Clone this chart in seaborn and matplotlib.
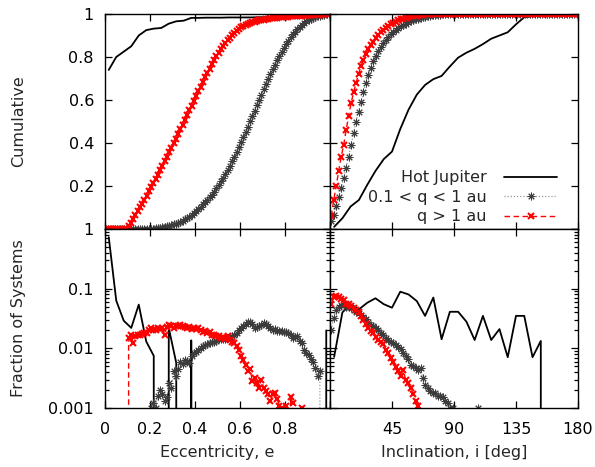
import numpy as np
import matplotlib
matplotlib.use("Agg")
import matplotlib.pyplot as plt
import seaborn as sns
from matplotlib.ticker import FixedLocator, FixedFormatter, LogLocator, NullFormatter

sns.set_style("ticks")
plt.rcParams['font.family'] = ['DejaVu Sans']
plt.rcParams['font.size'] = 11.5

# ---------------- data ----------------
N_FINE = 100      # bins of the two populations
N_HJ = 30         # bins of the hot-Jupiter sample
ECC_MAX = 1.0
INC_MAX = 180.0

# cumulative, eccentricity
ecc_cum_hj = [0.74, 0.80, 0.825, 0.85, 0.90, 0.925, 0.932, 0.935, 0.955, 0.966,
              0.969, 0.982, 0.982, 0.983, 0.983, 0.983, 0.984, 0.984, 0.984, 0.984,
              0.985, 0.985, 0.985, 0.985, 0.985, 0.985, 0.985, 0.985, 0.985, 1.0]
ecc_cum_mid = [0, 0, 0, 0, 0, 0, 0, 0, 0, 0,
               0, 0, 0, 0, 0, 0, 0, 0, 0, 0,
               0.001, 0.002, 0.003, 0.004, 0.006, 0.008, 0.010, 0.012, 0.015, 0.018,
               0.021, 0.025, 0.029, 0.034, 0.039, 0.045, 0.051, 0.058, 0.066, 0.074,
               0.083, 0.093, 0.103, 0.114, 0.124, 0.135, 0.147, 0.160, 0.174, 0.189,
               0.205, 0.221, 0.238, 0.256, 0.275, 0.295, 0.315, 0.336, 0.358, 0.380,
               0.403, 0.427, 0.451, 0.475, 0.500, 0.525, 0.550, 0.575, 0.600, 0.625,
               0.650, 0.674, 0.698, 0.721, 0.743, 0.765, 0.786, 0.806, 0.825, 0.843,
               0.860, 0.876, 0.891, 0.905, 0.918, 0.930, 0.941, 0.951, 0.959, 0.966,
               0.972, 0.977, 0.982, 0.986, 0.989, 0.992, 0.995, 0.997, 0.999, 1.0]
ecc_cum_out = [0, 0, 0, 0, 0, 0, 0, 0, 0, 0,
               0.012, 0.03, 0.048, 0.066, 0.084, 0.10, 0.118, 0.136, 0.155, 0.175,
               0.195, 0.214, 0.234, 0.253, 0.273, 0.294, 0.314, 0.335, 0.356, 0.377,
               0.398, 0.42, 0.442, 0.464, 0.486, 0.508, 0.53, 0.552, 0.574, 0.596,
               0.618, 0.64, 0.662, 0.684, 0.705, 0.726, 0.746, 0.766, 0.785, 0.803,
               0.82, 0.836, 0.851, 0.865, 0.878, 0.89, 0.902, 0.913, 0.923, 0.932,
               0.94, 0.946, 0.951, 0.955, 0.959, 0.962, 0.965, 0.968, 0.97, 0.972,
               0.974, 0.976, 0.978, 0.98, 0.981, 0.982, 0.983, 0.984, 0.985, 0.986,
               0.987, 0.988, 0.989, 0.99, 0.991, 0.992, 0.993, 0.993, 0.994, 0.995,
               0.995, 0.996, 0.996, 0.997, 0.997, 0.998, 0.998, 0.999, 0.999, 1.0]

# cumulative, inclination
inc_cum_hj = [0.01, 0.05, 0.105, 0.135, 0.205, 0.27, 0.325, 0.36, 0.465, 0.555,
              0.625, 0.67, 0.697, 0.712, 0.756, 0.797, 0.82, 0.838, 0.86, 0.885,
              0.9, 0.915, 0.952, 0.985, 0.99, 1.0, 1.0, 1.0, 1.0, 1.0]
inc_cum_mid = [0.035, 0.065, 0.105, 0.148, 0.19, 0.235, 0.285, 0.337, 0.39, 0.445,
               0.498, 0.545, 0.59, 0.635, 0.677, 0.715, 0.75, 0.78, 0.805, 0.828,
               0.848, 0.865, 0.88, 0.894, 0.906, 0.917, 0.926, 0.934, 0.942, 0.949,
               0.955, 0.961, 0.966, 0.971, 0.975, 0.979, 0.982, 0.985, 0.988, 0.99,
               0.992, 0.994, 0.995, 0.996, 0.997, 0.998, 0.998, 0.999, 0.999, 1.0,
               1, 1, 1, 1, 1, 1, 1, 1, 1, 1,
               1, 1, 1, 1, 1, 1, 1, 1, 1, 1,
               1, 1, 1, 1, 1, 1, 1, 1, 1, 1,
               1, 1, 1, 1, 1, 1, 1, 1, 1, 1,
               1, 1, 1, 1, 1, 1, 1, 1, 1, 1]
inc_cum_out = [0.06, 0.135, 0.2, 0.27, 0.335, 0.39, 0.46, 0.525, 0.585, 0.635,
               0.68, 0.72, 0.757, 0.788, 0.812, 0.835, 0.855, 0.872, 0.888, 0.902,
               0.914, 0.925, 0.935, 0.944, 0.952, 0.959, 0.965, 0.97, 0.975, 0.979,
               0.983, 0.986, 0.989, 0.991, 0.993, 0.995, 0.996, 0.997, 0.998, 0.998,
               0.999, 0.999, 1, 1, 1, 1, 1, 1, 1, 1,
               1, 1, 1, 1, 1, 1, 1, 1, 1, 1,
               1, 1, 1, 1, 1, 1, 1, 1, 1, 1,
               1, 1, 1, 1, 1, 1, 1, 1, 1, 1,
               1, 1, 1, 1, 1, 1, 1, 1, 1, 1,
               1, 1, 1, 1, 1, 1, 1, 1, 1, 1]

# fraction of systems, eccentricity
ecc_frac_hj = [0.73, 0.063, 0.029, 0.022, 0.054, 0.013, 0.0075, 0, 0.022, 0.0057,
               0, 0.0136, 0, 0, 0, 0, 0, 0, 0, 0,
               0, 0, 0, 0, 0, 0, 0, 0, 0, 0.02]
ecc_frac_mid = [0, 0, 0, 0, 0, 0, 0, 0, 0, 0,
                0, 0, 0, 0, 0, 0, 0, 0, 0, 0,
                0.001, 0.0012, 0.001, 0.0016, 0.002, 0.0017, 0.0013, 0.0015, 0.0026, 0.0022,
                0.0041, 0.0034, 0.0045, 0.006, 0.0055, 0.0064, 0.0062, 0.0057, 0.0075, 0.0084,
                0.0088, 0.0094, 0.01, 0.0108, 0.0114, 0.012, 0.0125, 0.013, 0.0128, 0.0135,
                0.0145, 0.0142, 0.0146, 0.0143, 0.0149, 0.0155, 0.016, 0.0168, 0.018, 0.0205,
                0.022, 0.024, 0.026, 0.028, 0.0275, 0.026, 0.022, 0.0225, 0.0234, 0.025,
                0.027, 0.026, 0.0234, 0.022, 0.0205, 0.021, 0.0194, 0.0198, 0.0194, 0.019,
                0.0185, 0.018, 0.0165, 0.0149, 0.0155, 0.016, 0.0135, 0.0123, 0.0095, 0.0085,
                0.0078, 0.0066, 0.0058, 0.0046, 0.0035, 0.0041, 0, 0, 0, 0]
ecc_frac_out = [0, 0, 0, 0, 0, 0, 0, 0, 0, 0,
                0.0149, 0.0165, 0.0125, 0.016, 0.017, 0.0165, 0.0175, 0.018, 0.018, 0.02,
                0.0215, 0.02, 0.0205, 0.022, 0.021, 0.022, 0.017, 0.023, 0.025, 0.024,
                0.022, 0.0235, 0.024, 0.025, 0.024, 0.023, 0.022, 0.0225, 0.021, 0.022,
                0.021, 0.022, 0.0205, 0.019, 0.0195, 0.018, 0.0185, 0.017, 0.0168, 0.016,
                0.0158, 0.015, 0.0152, 0.0145, 0.016, 0.014, 0.013, 0.0123, 0.011, 0.0094,
                0.0075, 0.0064, 0.0053, 0.0041, 0.0045, 0.0028, 0.0032, 0.0026, 0.0022, 0.003,
                0.0022, 0.0019, 0.0017, 0.0013, 0.0017, 0.0018, 0.0014, 0.0011, 0.001, 0,
                0.0011, 0, 0.0015, 0.0012, 0, 0, 0, 0.001, 0, 0,
                0, 0, 0, 0, 0, 0, 0, 0, 0, 0]

# fraction of systems, inclination
inc_frac_hj = [0.0072, 0.04, 0.055, 0.045, 0.058, 0.069, 0.055, 0.048, 0.089, 0.08,
               0.062, 0.035, 0.071, 0.0142, 0.041, 0.041, 0.028, 0.0138, 0.035, 0.0138,
               0.021, 0.0071, 0.035, 0.035, 0.0071, 0.0133, 0, 0, 0, 0]
inc_frac_mid = [0.0205, 0.032, 0.044, 0.05, 0.054, 0.053, 0.05, 0.049, 0.047, 0.044,
                0.041, 0.039, 0.036, 0.033, 0.031, 0.028, 0.025, 0.024, 0.022, 0.0205,
                0.018, 0.017, 0.015, 0.014, 0.013, 0.0123, 0.0115, 0.0105, 0.0098, 0.0085,
                0.0074, 0.0065, 0.0053, 0.005, 0.0047, 0.0044, 0.0047, 0.0032, 0.0024, 0.0022,
                0.0019, 0.0018, 0.0018, 0.0016, 0.0016, 0.0015, 0.0013, 0.0012, 0.001, 0.001,
                0, 0, 0, 0, 0, 0, 0, 0, 0, 0.001,
                0, 0, 0, 0, 0, 0, 0, 0, 0, 0,
                0, 0, 0, 0, 0, 0, 0, 0, 0, 0,
                0, 0, 0, 0, 0, 0, 0, 0, 0, 0,
                0, 0, 0, 0, 0, 0, 0, 0, 0, 0]
inc_frac_out = [0.056, 0.072, 0.075, 0.073, 0.068, 0.064, 0.055, 0.056, 0.051, 0.048,
                0.0445, 0.04, 0.035, 0.03, 0.026, 0.022, 0.0195, 0.018, 0.0155, 0.014,
                0.0128, 0.0118, 0.0095, 0.0085, 0.007, 0.006, 0.0048, 0.0042, 0.0035, 0.0044,
                0.003, 0.0026, 0.0022, 0.0017, 0.0013, 0.0011, 0, 0, 0, 0,
                0, 0, 0, 0, 0, 0, 0, 0, 0, 0,
                0, 0, 0, 0, 0, 0, 0, 0, 0, 0,
                0, 0, 0, 0, 0, 0, 0, 0, 0, 0,
                0, 0, 0, 0, 0, 0, 0, 0, 0, 0,
                0, 0, 0, 0, 0, 0, 0, 0, 0, 0,
                0, 0, 0, 0, 0, 0, 0, 0, 0, 0]

labels = ["Hot Jupiter", "0.1 < q < 1 au", "q > 1 au"]


def centers(n, vmax):
    return (np.arange(n) + 0.5) * vmax / n


ecc_fine, ecc_hj = centers(N_FINE, ECC_MAX), centers(N_HJ, ECC_MAX)
inc_fine, inc_hj = centers(N_FINE, INC_MAX), centers(N_HJ, INC_MAX)

# ---------------- styles ----------------
st_hj = dict(color="black", lw=1.3)
st_mid = dict(color="#9a9a9a", ls=(0, (1, 1.5)), lw=0.9, marker=(8, 2, 0),
              markersize=5.5, mec="#3c3c3c", mfc="none", mew=0.7)
st_out = dict(color="red", ls=(0, (4, 2.5)), lw=1.0, marker="x",
              markersize=5, mec="red", mew=1.5)

W, H = 595, 467
fig = plt.figure(figsize=(W / 100, H / 100), dpi=100)


def add_ax(x0, y0, x1, y1):
    return fig.add_axes([x0 / W, 1 - y1 / H, (x1 - x0) / W, (y1 - y0) / H])


ax_tl = add_ax(105, 14, 330, 229)
ax_tr = add_ax(330, 14, 578, 229)
ax_bl = add_ax(105, 229, 330, 408)
ax_br = add_ax(330, 229, 578, 408)


def draw(ax, x, ys, xs_hj, with_labels=False):
    y_hj_, y_mid, y_out = ys
    sns.lineplot(x=xs_hj, y=y_hj_, ax=ax, estimator=None, sort=False,
                 label=labels[0] if with_labels else None, legend=False, **st_hj)
    sns.lineplot(x=x, y=y_mid, ax=ax, estimator=None, sort=False,
                 label=labels[1] if with_labels else None, legend=False, **st_mid)
    sns.lineplot(x=x, y=y_out, ax=ax, estimator=None, sort=False,
                 label=labels[2] if with_labels else None, legend=False, **st_out)


draw(ax_tl, ecc_fine, (ecc_cum_hj, ecc_cum_mid, ecc_cum_out), ecc_hj)
draw(ax_tr, inc_fine, (inc_cum_hj, inc_cum_mid, inc_cum_out), inc_hj, with_labels=True)
draw(ax_bl, ecc_fine, (ecc_frac_hj, ecc_frac_mid, ecc_frac_out), ecc_hj)
draw(ax_br, inc_fine, (inc_frac_hj, inc_frac_mid, inc_frac_out), inc_hj)

for ax in (ax_bl, ax_br):
    ax.set_yscale("log")
    ax.set_ylim(0.001, 1)
    ax.yaxis.set_major_locator(FixedLocator([0.001, 0.01, 0.1, 1]))
    ax.yaxis.set_minor_locator(LogLocator(base=10, subs=np.arange(2, 10)))
    ax.yaxis.set_minor_formatter(NullFormatter())
for ax in (ax_tl, ax_tr):
    ax.set_ylim(0, 1)
    ax.yaxis.set_major_locator(FixedLocator([0, 0.2, 0.4, 0.6, 0.8, 1.0]))
for ax in (ax_tl, ax_bl):
    ax.set_xlim(0, 1)
    ax.xaxis.set_major_locator(FixedLocator([0, 0.2, 0.4, 0.6, 0.8, 1.0]))
for ax in (ax_tr, ax_br):
    ax.set_xlim(0, 180)
    ax.xaxis.set_major_locator(FixedLocator([0, 45, 90, 135, 180]))

ax_tl.yaxis.set_major_formatter(FixedFormatter(["", "0.2", "0.4", "0.6", "0.8", "1"]))
ax_bl.yaxis.set_major_formatter(FixedFormatter(["0.001", "0.01", "0.1", "1"]))
ax_bl.xaxis.set_major_formatter(FixedFormatter(["0", "0.2", "0.4", "0.6", "0.8", ""]))
ax_br.xaxis.set_major_formatter(FixedFormatter(["", "45", "90", "135", "180"]))

for ax in (ax_tl, ax_tr, ax_bl, ax_br):
    ax.tick_params(which="both", direction="in", top=True, right=True,
                   bottom=True, left=True, width=0.9, colors="black",
                   labelsize=11.5)
    ax.tick_params(which="major", length=5, pad=8)
    ax.tick_params(which="minor", length=3)
    for sp in ax.spines.values():
        sp.set_linewidth(1.0)
        sp.set_color("black")
    ax.set_xlabel("")
    ax.set_ylabel("")

ax_tl.tick_params(labelbottom=False)
ax_tr.tick_params(labelbottom=False, labelleft=False)
ax_br.tick_params(labelleft=False)
ax_bl.tick_params(axis="x", pad=10)
ax_br.tick_params(axis="x", pad=10)

ax_tl.set_ylabel("Cumulative", fontsize=11.5)
ax_bl.set_ylabel("Fraction of Systems", fontsize=11.5)
ax_tl.yaxis.set_label_coords(-0.35, 0.5)
ax_bl.yaxis.set_label_coords(-0.35, 0.5)
ax_bl.set_xlabel("Eccentricity, e", fontsize=11.5)
ax_br.set_xlabel("Inclination, i [deg]", fontsize=11.5)
ax_bl.xaxis.set_label_coords(0.5, -0.205)
ax_br.xaxis.set_label_coords(0.5, -0.205)

h, l = ax_tr.get_legend_handles_labels()
ax_tr.legend(h, l, loc="lower right", bbox_to_anchor=(0.96, -0.03),
             frameon=False, markerfirst=False, handlelength=3.3,
             handletextpad=1.1, labelspacing=0.28, borderpad=0.2,
             fontsize=11.5, numpoints=1)

fig.savefig("out.png", dpi=100)
